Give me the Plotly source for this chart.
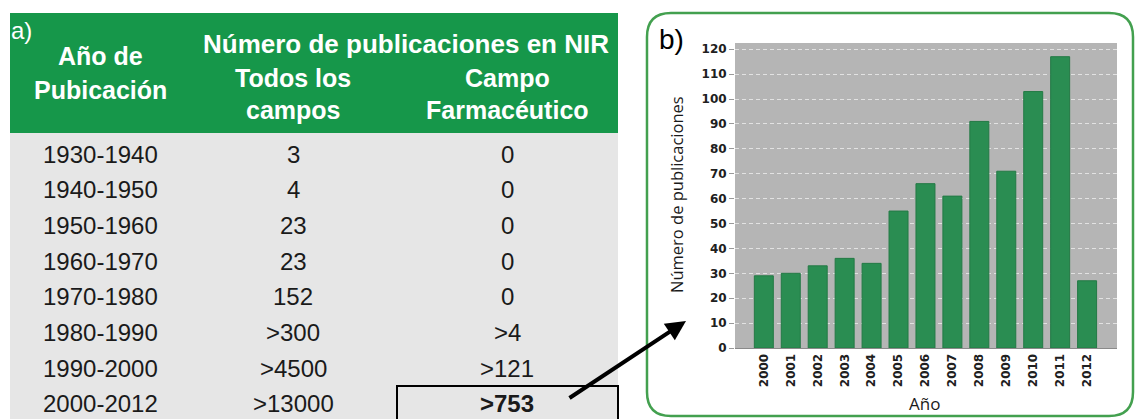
import plotly.graph_objects as go

W, H = 1135, 419

# ---------------- data: table (panel a) ----------------
periodos = ["1930-1940", "1940-1950", "1950-1960", "1960-1970",
            "1970-1980", "1980-1990", "1990-2000", "2000-2012"]
todos_campos = ["3", "4", "23", "23", "152", ">300", ">4500", ">13000"]
campo_farma = ["0", "0", "0", "0", "0", ">4", ">121", ">753"]
header_span = "Número de publicaciones en NIR"
header_col1 = ["Año de", "Pubicación"]
header_col2 = ["Todos los", "campos"]
header_col3 = ["Campo", "Farmacéutico"]

# ---------------- data: bar chart (panel b) ----------------
anios = ["2000", "2001", "2002", "2003", "2004", "2005", "2006",
         "2007", "2008", "2009", "2010", "2011", "2012"]
publicaciones = [29, 30, 33, 36, 34, 55, 66, 61, 91, 71, 103, 117, 27]
y_ticks = [0, 10, 20, 30, 40, 50, 60, 70, 80, 90, 100, 110, 120]


def px(x):
    return x / W


def py(y):
    return 1 - y / H


GREEN = "#16974a"
GREY_ROWS = "#e6e6e6"
TABLE_FONT = "Liberation Sans, Arial, sans-serif"
CHART_FONT = "Open Sans, DejaVu Sans, sans-serif"

shapes = []
annotations = []

# table backgrounds
shapes.append(dict(type="rect", xref="paper", yref="paper",
                   x0=px(10), x1=px(618), y0=py(133), y1=py(13),
                   fillcolor=GREEN, line=dict(width=0), layer="below"))
shapes.append(dict(type="rect", xref="paper", yref="paper",
                   x0=px(10), x1=px(618), y0=py(425), y1=py(133),
                   fillcolor=GREY_ROWS, line=dict(width=0), layer="below"))

col_x = [100, 293, 507]


def add_text(text, x, y, font, xanchor="center"):
    annotations.append(dict(text=text, x=px(x), y=py(y), xref="paper", yref="paper",
                            showarrow=False, xanchor=xanchor, yanchor="middle",
                            font=font))


# header texts
hdr_font = dict(family=TABLE_FONT, size=25, color="white")
add_text("<b>" + header_span + "</b>", 406, 44, dict(family=TABLE_FONT, size=26, color="white"))
for lines, cx, ys in [(header_col1, col_x[0], [56, 90]),
                      (header_col2, col_x[1], [78, 110]),
                      (header_col3, col_x[2], [78, 110])]:
    for t, yy in zip(lines, ys):
        add_text("<b>" + t + "</b>", cx, yy, hdr_font)
add_text("a)", 9, 31, dict(family=TABLE_FONT, size=24, color="white"), xanchor="left")

# table rows
row_font = dict(family=TABLE_FONT, size=24, color="#1a1a1a")
first_row_y, row_step = 154, 35.7
for i, (p, t, f) in enumerate(zip(periodos, todos_campos, campo_farma)):
    yy = first_row_y + i * row_step
    add_text(p, col_x[0], yy, row_font)
    add_text(t, col_x[1], yy, row_font)
    ftxt = "<b>" + f + "</b>" if i == len(periodos) - 1 else f
    add_text(ftxt, col_x[2], yy, row_font)

# box around the highlighted value
shapes.append(dict(type="rect", xref="paper", yref="paper",
                   x0=px(397), x1=px(618), y0=py(430), y1=py(386),
                   line=dict(color="black", width=2), fillcolor="rgba(0,0,0,0)"))

# rounded green border of panel b
x0, x1, y0, y1, r = 647, 1133, 13, 416, 24
pts = [("M", x0 + r, y0), ("L", x1 - r, y0), ("Q", x1, y0, x1, y0 + r),
       ("L", x1, y1 - r), ("Q", x1, y1, x1 - r, y1), ("L", x0 + r, y1),
       ("Q", x0, y1, x0, y1 - r), ("L", x0, y0 + r), ("Q", x0, y0, x0 + r, y0)]
path = ""
for seg in pts:
    cmd = seg[0]
    coords = seg[1:]
    cs = []
    for k in range(0, len(coords), 2):
        cs.append(f"{px(coords[k]):.5f},{py(coords[k+1]):.5f}")
    path += cmd + " " + " ".join(cs) + " "
path += "Z"
shapes.append(dict(type="path", xref="paper", yref="paper", path=path,
                   line=dict(color="#43a04f", width=2.5), fillcolor="rgba(0,0,0,0)"))

# panel label b)
add_text("b)", 657, 40, dict(family=TABLE_FONT, size=28, color="black"), xanchor="left")

# axis titles
annotations.append(dict(text="Número de publicaciones", x=px(676), y=py(195),
                        xref="paper", yref="paper", showarrow=False, textangle=-90,
                        xanchor="center", yanchor="middle",
                        font=dict(family=CHART_FONT, size=16.5, color="#1a1a1a")))
annotations.append(dict(text="Año", x=px(924), y=py(403),
                        xref="paper", yref="paper", showarrow=False,
                        xanchor="center", yanchor="middle",
                        font=dict(family=CHART_FONT, size=17, color="#1a1a1a")))

# arrow from the table to the chart
annotations.append(dict(text="", x=px(686), y=py(321), xref="paper", yref="paper",
                        showarrow=True, arrowhead=2, arrowsize=1, arrowwidth=4,
                        arrowcolor="black", ax=-118, ay=78, standoff=0))

fig = go.Figure()
fig.add_trace(go.Bar(x=anios, y=publicaciones, width=0.705,
                     marker=dict(color="#2a8d52", line=dict(color="#237a45", width=1)),
                     showlegend=False))

tick_font = dict(family="DejaVu Sans, sans-serif", size=12, color="#202020", weight="bold")
fig.update_layout(
    width=W, height=H,
    margin=dict(l=0, r=0, t=0, b=0),
    paper_bgcolor="white",
    plot_bgcolor="#b5b5b5",
    shapes=shapes,
    annotations=annotations,
    xaxis=dict(domain=[px(735), px(1117)], type="category", range=[-1.07, 13.11],
               tickangle=-90, tickfont=tick_font,
               showline=True, linecolor="#8a8a8a", linewidth=1, ticks="", showgrid=False,
               automargin=False, fixedrange=True),
    yaxis=dict(domain=[py(348), py(43)], range=[0, 122.5], tickvals=y_ticks,
               tickfont=tick_font,
               ticks="outside", ticklen=5, tickcolor="#999", showline=False,
               showgrid=True, gridcolor="#e2e2e2", griddash="4px,3px", gridwidth=1,
               zeroline=False, automargin=False, fixedrange=True),
)

fig.write_html("out.html", config={"displayModeBar": False},
               post_script="document.body.style.margin='0';document.body.style.overflow='hidden';")
